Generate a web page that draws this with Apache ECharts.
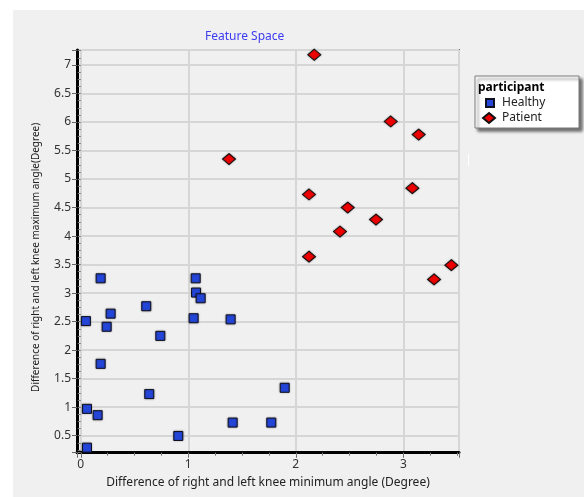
<!DOCTYPE html>
<html>
<head>
<meta charset="utf-8">
<script src="https://cdn.jsdelivr.net/npm/echarts@6/dist/echarts.min.js"></script>
<style>
  html, body { margin: 0; padding: 0; background: #ffffff; }
  #chart { width: 584px; height: 497px; }
</style>
</head>
<body>
<div id="chart"></div>
<script>
// Knee angle asymmetry: min-angle difference (x) vs max-angle difference (y)
const healthyX = [0.185, 1.069, 1.072, 1.115, 0.609, 0.278, 0.048, 1.050, 1.394, 0.241,
                  0.740, 0.185, 1.897, 0.637, 0.058, 0.157, 1.413, 1.772, 0.907, 0.058];
const healthyY = [3.26, 3.26, 3.01, 2.91, 2.77, 2.64, 2.51, 2.56, 2.54, 2.41,
                  2.25, 1.76, 1.34, 1.23, 0.97, 0.86, 0.73, 0.73, 0.495, 0.29];
const patientX = [2.172, 2.883, 3.143, 1.379, 3.084, 2.123, 2.483, 2.746, 2.411, 2.123, 3.447, 3.286];
const patientY = [7.18, 6.01, 5.78, 5.35, 4.84, 4.73, 4.50, 4.29, 4.08, 3.64, 3.49, 3.24];

const groupNames = ['Healthy', 'Patient'];
const xRange = [-0.035, 3.518];
const yRange = [0.202, 7.263];

const FONT = 'Noto Sans';
const gridRect = { left: 77, top: 50, width: 382, height: 402.7 };

function pairs(xs, ys) { return xs.map((x, i) => [x, ys[i]]); }
function onStep(v, step) { return Math.abs(v / step - Math.round(v / step)) < 1e-6; }

const chart = echarts.init(document.getElementById('chart'));

chart.setOption({
  backgroundColor: '#ffffff',
  animation: false,
  textStyle: { fontFamily: FONT },
  title: {
    text: 'Feature Space',
    left: 205, top: 31, padding: 0,
    textStyle: { color: '#3b3bf2', fontSize: 12, fontWeight: 'normal', fontFamily: FONT }
  },
  graphic: [
    { type: 'rect', z: -10, silent: true,
      shape: { x: 13, y: 10, width: 571, height: 487 },
      style: { fill: '#f0f0f0' } },
    { type: 'rect', z: 1, silent: true,
      shape: { x: 475, y: 76, width: 104, height: 52 },
      style: { fill: '#ffffff', stroke: '#7a7a7a', lineWidth: 1,
               shadowBlur: 3, shadowOffsetX: 3, shadowOffsetY: 3, shadowColor: 'rgba(0,0,0,0.55)' } },
    { type: 'text', z: 2, silent: true, x: 478, y: 88,
      style: { text: 'participant', fill: '#000000', font: 'bold 12px "Noto Sans"',
               textVerticalAlign: 'middle', verticalAlign: 'middle' } },
    { type: 'line', z: 1, silent: true,
      shape: { x1: 468.5, y1: 154, x2: 468.5, y2: 166 },
      style: { stroke: '#ffffff', lineWidth: 1 } }
  ],
  legend: [
    { data: [{ name: groupNames[0], icon: 'rect' }], orient: 'vertical',
      left: 485, top: 96, padding: 0, itemWidth: 8, itemHeight: 8, z: 5,
      textStyle: { fontSize: 12, color: '#222', fontFamily: FONT, lineHeight: 14, padding: [0, 0, 0, 3] } },
    { data: [{ name: groupNames[1], icon: 'diamond' }], orient: 'vertical',
      left: 482, top: 111, padding: 0, itemWidth: 12, itemHeight: 10, z: 5,
      textStyle: { fontSize: 12, color: '#222', fontFamily: FONT, lineHeight: 14, padding: [0, 0, 0, 2] } }
  ],
  grid: [
    Object.assign({ show: true, borderColor: '#707070', borderWidth: 2, backgroundColor: 'transparent' }, gridRect),
    Object.assign({ show: false }, gridRect)
  ],
  xAxis: [
    { type: 'value', gridIndex: 0, min: xRange[0], max: xRange[1],
      minInterval: 1, maxInterval: 1,
      name: 'Difference of right and left knee minimum angle (Degree)',
      nameLocation: 'middle', nameGap: 24,
      nameTextStyle: { fontSize: 12, color: '#222', fontFamily: FONT },
      axisLine: { show: true, onZero: false, lineStyle: { color: '#000', width: 3 } },
      axisTick: { show: true, length: 5, lineStyle: { color: '#666', width: 1 } },
      axisLabel: { fontSize: 12, color: '#333', margin: 6, fontFamily: FONT,
                   formatter: v => onStep(v, 1) ? String(Math.round(v)) : '' },
      splitLine: { show: true, lineStyle: { color: '#d6d6d6', width: 2 } } },
    { type: 'value', gridIndex: 1, min: xRange[0], max: xRange[1],
      minInterval: 0.25, maxInterval: 0.25,
      axisLine: { show: false },
      axisTick: { show: true, length: 3, lineStyle: { color: '#777', width: 1 } },
      axisLabel: { show: false }, splitLine: { show: false } }
  ],
  yAxis: [
    { type: 'value', gridIndex: 0, min: yRange[0], max: yRange[1],
      minInterval: 0.5, maxInterval: 0.5,
      name: 'Difference of right and left knee maximum angle(Degree)',
      nameLocation: 'middle', nameGap: 36, nameRotate: 90,
      nameTextStyle: { fontSize: 10, color: '#222', fontFamily: FONT, padding: [0, 12, 0, 0] },
      axisLine: { show: true, onZero: false, lineStyle: { color: '#000', width: 3 } },
      axisTick: { show: true, length: 5, lineStyle: { color: '#666', width: 1 } },
      axisLabel: { fontSize: 12, color: '#333', margin: 6, fontFamily: FONT,
                   formatter: v => onStep(v, 0.5) ? String(Math.round(v * 10) / 10) : '' },
      splitLine: { show: true, lineStyle: { color: '#d6d6d6', width: 2 } } },
    { type: 'value', gridIndex: 1, min: yRange[0], max: yRange[1],
      minInterval: 0.125, maxInterval: 0.125,
      axisLine: { show: false },
      axisTick: { show: true, length: 3, lineStyle: { color: '#777', width: 1 } },
      axisLabel: { show: false }, splitLine: { show: false } }
  ],
  series: [
    { name: groupNames[0], type: 'scatter', xAxisIndex: 0, yAxisIndex: 0,
      symbol: 'rect', symbolSize: 9, z: 3,
      itemStyle: { color: '#2446d8', borderColor: '#101020', borderWidth: 1,
                   shadowBlur: 2, shadowColor: 'rgba(0,0,0,0.35)', opacity: 1 },
      data: pairs(healthyX, healthyY) },
    { name: groupNames[1], type: 'scatter', xAxisIndex: 0, yAxisIndex: 0,
      symbol: 'diamond', symbolSize: [13, 11], z: 3,
      itemStyle: { color: '#ee0000', borderColor: '#101010', borderWidth: 1,
                   shadowBlur: 2, shadowColor: 'rgba(0,0,0,0.35)', opacity: 1 },
      data: pairs(patientX, patientY) }
  ]
});
</script>
</body>
</html>
